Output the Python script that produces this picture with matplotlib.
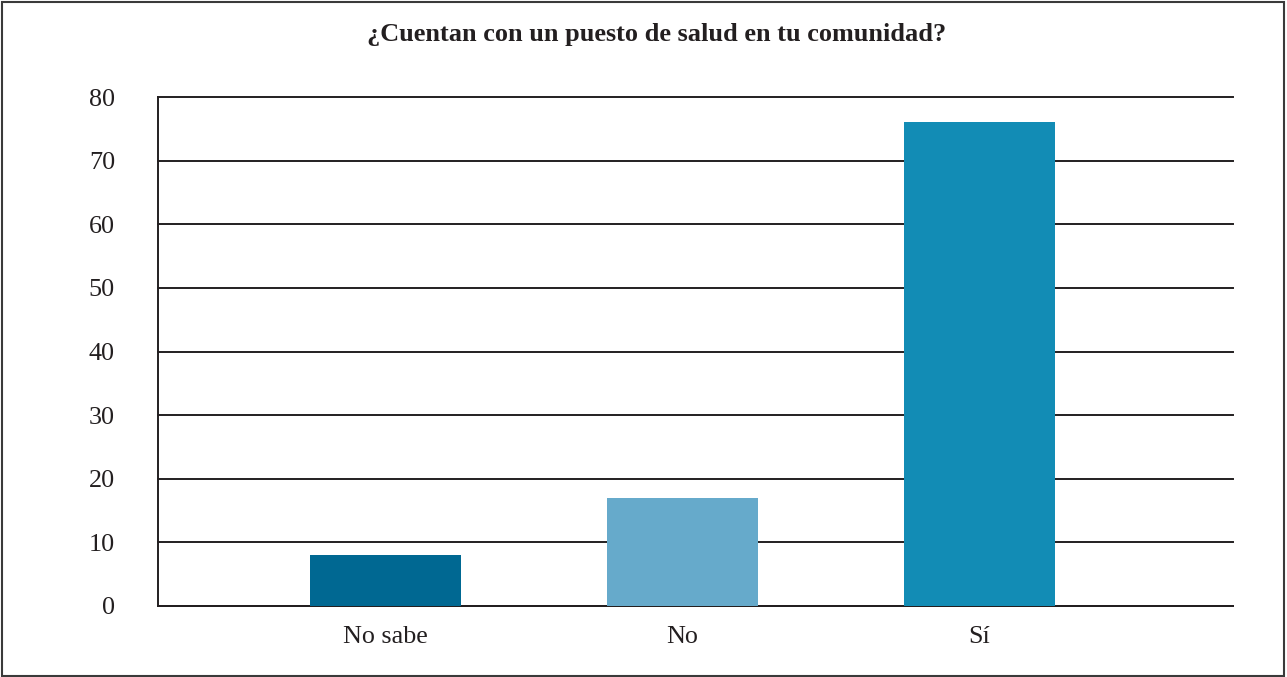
import matplotlib
matplotlib.use("Agg")
import matplotlib.pyplot as plt
from matplotlib.patches import Rectangle

categories = ["No sabe", "No", "Sí"]
values = [8, 17, 76]
colors = ["#006892", "#66aacb", "#128cb5"]
title = "¿Cuentan con un puesto de salud en tu comunidad?"
yticks = [0, 10, 20, 30, 40, 50, 60, 70, 80]

plt.rcParams['font.family'] = ['Liberation Serif', 'DejaVu Serif']

fig = plt.figure(figsize=(12.87, 6.77), dpi=100)
ax = fig.add_axes([158/1287, 1-606/677, (1233-158)/1287, (606-97)/677])

x = list(range(len(categories)))
ax.bar(x, values, width=0.508, color=colors, zorder=3)

ax.set_xlim(-0.766, 2.854)
ax.set_ylim(0, 80)
ax.set_yticks(yticks)
ax.set_yticklabels([str(v) for v in yticks], fontsize=18.8, color="#231f20")
ax.set_xticks(x)
ax.set_xticklabels(categories, fontsize=18.8, color="#231f20")
ax.tick_params(axis='y', length=0, pad=31)
ax.tick_params(axis='x', length=0, pad=14.5)

ax.grid(axis='y', color="#231f20", linewidth=1.4, zorder=1)
for gl in ax.get_ygridlines():
    gl.set_clip_on(False)
ax.set_axisbelow(True)
for s in ["right", "top"]:
    ax.spines[s].set_visible(False)
for s in ["left", "bottom"]:
    ax.spines[s].set_color("#231f20")
    ax.spines[s].set_linewidth(1.4)
    ax.spines[s].set_zorder(2)

fig.text(657/1287, 1-35/677, title, ha='center', va='center',
         fontsize=18.9, fontweight='bold', color="#231f20")

fig.patches.append(Rectangle((2/1287, 1/677), 1282/1287, 674/677,
                             transform=fig.transFigure, fill=False,
                             edgecolor="#3a3a3a", linewidth=1.5))

fig.savefig("out.png", dpi=100)
